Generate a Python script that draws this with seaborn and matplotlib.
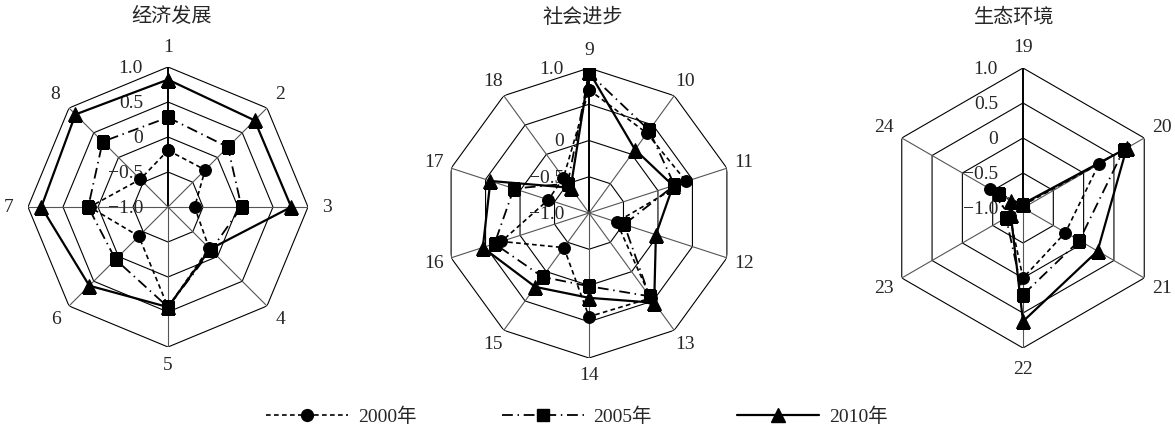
import matplotlib
matplotlib.use('Agg')
import matplotlib.pyplot as plt
from matplotlib.lines import Line2D
import numpy as np
import pandas as pd
import seaborn as sns

# ---- data ----
YEARS = ['2000年', '2005年', '2010年']
TITLES = ['经济发展', '社会进步', '生态环境']

econ_labels = ['1', '2', '3', '4', '5', '6', '7', '8']
econ_2000 = [-0.19, -0.25, -0.62, -0.17, 0.43, -0.41, 0.12, -0.44]
econ_2005 = [0.28, 0.21, 0.05, -0.13, 0.43, 0.06, 0.14, 0.32]
econ_2010 = [0.82, 0.75, 0.76, -0.15, 0.43, 0.59, 0.81, 0.87]

soc_labels = ['9', '10', '11', '12', '13', '14', '15', '16', '17', '18']
soc_2000 = [0.70, 0.36, 0.41, -0.60, 0.45, 0.43, -0.41, 0.27, -0.41, -0.40]
soc_2005 = [0.93, 0.41, 0.24, -0.49, 0.42, 0.01, 0.09, 0.37, 0.09, -0.50]
soc_2010 = [0.95, 0.08, 0.22, -0.03, 0.53, 0.17, 0.26, 0.54, 0.43, -0.57]

eco_labels = ['19', '20', '21', '22', '23', '24']
eco_2000 = [-0.96, 0.25, -0.30, 0.00, -0.78, -0.45]
eco_2005 = [-0.95, 0.66, -0.07, 0.24, -0.72, -0.61]
eco_2010 = [-0.94, 0.71, 0.23, 0.62, -0.80, -0.80]

ring_values = [-0.5, 0.0, 0.5, 1.0]
rtick_values = [1.0, 0.5, 0.0, -0.5, -1.0]
rtick_labels = ['1.0', '0.5', '0', '\u22120.5', '\u22121.0']
rtick_shown = [
    [True, True, True, True, True],
    [True, False, True, True, True],
    [True, True, True, True, True],
]

STYLES = {
    '2000年': dict(linestyle=(0, (2.8, 2.0)), marker='o', markersize=8.5, linewidth=1.2),
    '2005年': dict(linestyle=(0, (6.0, 2.6, 0.8, 2.6)), marker='s', markersize=8.5, linewidth=1.3),
    '2010年': dict(linestyle='-', marker='^', markersize=10, linewidth=1.6),
}

# axes placement in pixels: centre x, centre y (from top), radius
PANELS = [(168, 207, 140), (589, 213, 145), (1023, 208, 140)]
TITLE_X = [172, 583, 1014]
LABEL_PAD = [19, 18, 21]
W, H = 1175, 437

sns.set_theme(style='white')
plt.rcParams['font.family'] = ['Liberation Serif', 'Noto Sans CJK SC']
plt.rcParams['axes.unicode_minus'] = True


def draw_radar(ax, labels, series, shown, rpx, pad):
    n = len(labels)
    theta = np.linspace(0, 2 * np.pi, n, endpoint=False)
    theta_c = np.append(theta, 2 * np.pi)

    ax.set_theta_zero_location('N')
    ax.set_theta_direction(-1)
    ax.set_ylim(-1.0, 1.0)
    ax.grid(False)
    ax.spines['polar'].set_visible(False)
    ax.set_xticks([])
    ax.set_yticks([])
    ax.set_facecolor('none')

    # polygon rings and spokes
    for r in ring_values:
        ax.plot(theta_c, [r] * (n + 1), color='black', linewidth=0.8, zorder=1)
    for i, t in enumerate(theta):
        if i == 0:
            ax.plot([t, t], [-1.0, 1.0], color='black', linewidth=1.4, zorder=1)
        else:
            ax.plot([t, t], [-1.0, 1.0], color='#555555', linewidth=0.8, zorder=1)

    # radial value labels
    for v, lab, ok in zip(rtick_values, rtick_labels, shown):
        if ok:
            ax.annotate(lab, xy=(0, v), xytext=(-18, -1), textcoords='offset points',
                        ha='right', va='center', fontsize=14, zorder=2,
                        annotation_clip=False)

    # category labels
    lab_r = 1.0 + 2 * pad / rpx
    for t, lab in zip(theta, labels):
        ax.text(t, lab_r, lab, ha='center', va='center', fontsize=14, clip_on=False)

    for year, vals in zip(YEARS, series):
        df = pd.DataFrame({'theta': theta_c, 'value': list(vals) + [vals[0]]})
        st = STYLES[year]
        sns.lineplot(data=df, x='theta', y='value', ax=ax, sort=False, errorbar=None,
                     color='black', linestyle=st['linestyle'], linewidth=st['linewidth'],
                     marker=st['marker'], markersize=st['markersize'],
                     markeredgecolor='black', markerfacecolor='black', zorder=3)
    ax.set_xlabel('')
    ax.set_ylabel('')


fig = plt.figure(figsize=(W / 100, H / 100), dpi=100)

all_labels = [econ_labels, soc_labels, eco_labels]
all_series = [
    [econ_2000, econ_2005, econ_2010],
    [soc_2000, soc_2005, soc_2010],
    [eco_2000, eco_2005, eco_2010],
]

for k, (cx, cy, r) in enumerate(PANELS):
    ax = fig.add_axes([(cx - r) / W, (H - cy - r) / H, 2 * r / W, 2 * r / H], projection='polar')
    draw_radar(ax, all_labels[k], all_series[k], rtick_shown[k], r, LABEL_PAD[k])
    fig.text(TITLE_X[k] / W, 1 - 18 / H, TITLES[k], ha='center', va='center', fontsize=14.5)

handles = [Line2D([], [], color='black', markeredgecolor='black', markerfacecolor='black',
                  **STYLES[y]) for y in YEARS]
fig.legend(handles, YEARS, loc='center', bbox_to_anchor=(577 / W, 1 - 417 / H), ncol=3,
           frameon=False, fontsize=14, handlelength=4.2, columnspacing=4.4,
           handletextpad=0.5, numpoints=1)

fig.savefig('out.png', dpi=100)
